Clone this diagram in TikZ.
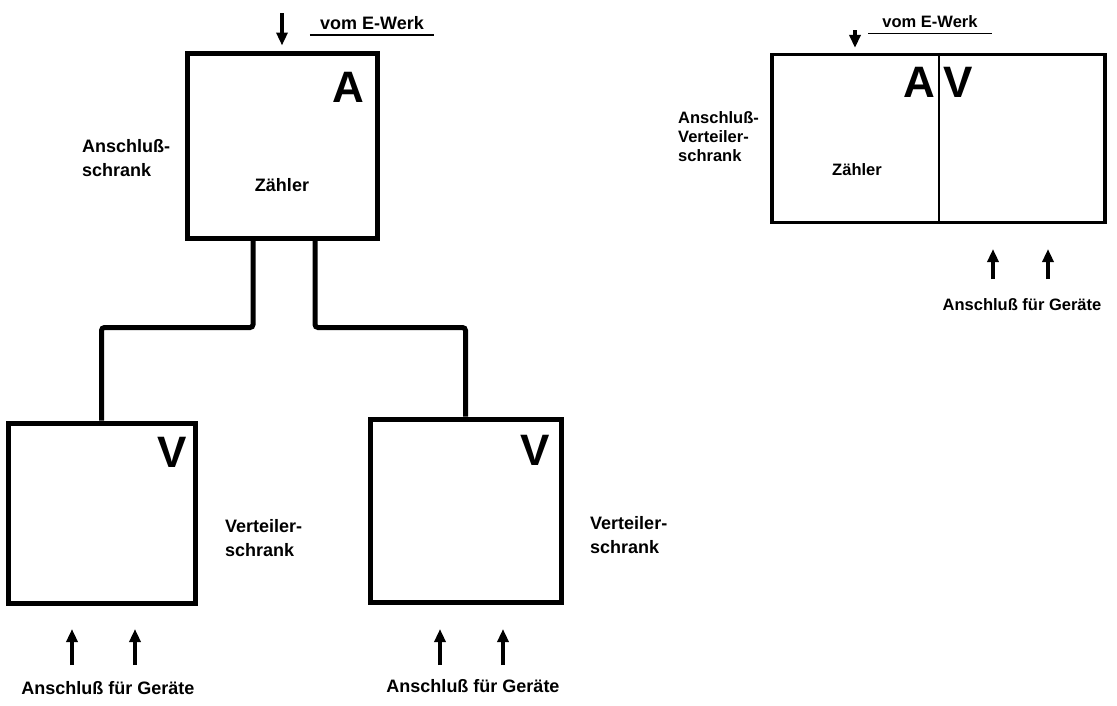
\documentclass[tikz,border=0pt]{standalone}
\usepackage{fontspec}
\setmainfont{Liberation Sans}
\usetikzlibrary{arrows.meta}
\tikzset{
  cabinet/.style={draw=black, line width=5pt, inner sep=0pt},
  combined/.style={draw=black, line width=3.2pt, inner sep=0pt},
  wire/.style={draw=black, line width=5pt, rounded corners=3pt},
  feed/.style={line width=3.6pt, -{Triangle[length=13pt, width=11pt]}},
  letter/.style={font=\fontsize{44}{44}\selectfont\bfseries, inner sep=0pt},
  caption/.style={font=\fontsize{18}{24}\selectfont\bfseries, align=left, inner sep=0pt},
  smallcaption/.style={font=\fontsize{16.5}{19}\selectfont\bfseries, align=left, inner sep=0pt},
  rule/.style={line width=1.5pt},
}
\begin{document}
\begin{tikzpicture}[x=1pt, y=-1pt]
\useasboundingbox (0,0) rectangle (1117,705);
% left: separate cabinets
\node[cabinet, minimum width=190pt, minimum height=185pt] (A) at (282,145.5) {};
\node[cabinet, minimum width=187pt, minimum height=180pt] (V1) at (101.5,513) {};
\node[cabinet, minimum width=191pt, minimum height=183pt] (V2) at (465.5,510.5) {};
\node[letter, anchor=north east] (lA) at ([xshift=-15pt, yshift=-22pt]A.north east) {A};
\node[letter, anchor=north east] (lV1) at ([xshift=-10pt, yshift=-17pt]V1.north east) {V};
\node[letter, anchor=north east] (lV2) at ([xshift=-13pt, yshift=-19pt]V2.north east) {V};
\node[caption] (zA) at (282,185) {Zähler};
\node[caption, anchor=west] (nA) at (82,158) {Anschluß-\\schrank};
\node[caption, anchor=west] (nV1) at (225,538) {Verteiler-\\schrank};
\node[caption, anchor=west] (nV2) at (590,535) {Verteiler-\\schrank};
\draw[wire] ([xshift=-29pt]A.south) -- ++(0,87) -| (V1.north);
\draw[wire] ([xshift=33pt]A.south) -- ++(0,87) -| (V2.north);
% supply
\coordinate (inA) at (282,13);
\draw[feed] (inA) -- ([yshift=5pt]A.north);
\node[caption] (ewA) at (372,23) {vom E-Werk};
\draw[rule] ([xshift=-10pt, yshift=-5pt]ewA.south west) -- ([xshift=10pt, yshift=-5pt]ewA.south east);
% devices
\foreach \x in {72, 135, 440, 503} {
  \coordinate (d\x) at (\x,665);
  \draw[feed] (d\x) -- ++(0,-36);
}
\node[caption] (gV1) at (108,688) {Anschluß für Geräte};
\node[caption] (gV2) at (473,686) {Anschluß für Geräte};
% right: combined cabinet
\node[combined, minimum width=333pt, minimum height=168pt] (AV) at (938.5,138.5) {};
\draw[line width=1.4pt] (AV.north -| 939,0) -- (AV.south -| 939,0);
\node[letter, anchor=north east] (lAA) at (935,67) {A};
\node[letter, anchor=north west] (lAV) at (943,67) {V};
\node[smallcaption] (zAV) at (857,170) {Zähler};
\node[smallcaption, anchor=west] (nAV) at (678,137) {Anschluß-\\Verteiler-\\schrank};
\coordinate (inAV) at (855,30);
\draw[feed] (inAV) -- ([yshift=5pt]AV.north -| inAV);
\node[smallcaption] (ewAV) at (930,22) {vom E-Werk};
\draw[rule] ([xshift=-14pt, yshift=-5pt]ewAV.south west) -- ([xshift=14pt, yshift=-5pt]ewAV.south east);
\foreach \x in {993, 1048} {
  \coordinate (e\x) at (\x,279);
  \draw[feed] (e\x) -- ++(0,-30);
}
\node[smallcaption] (gAV) at (1022,305) {Anschluß für Geräte};
\end{tikzpicture}
\end{document}
